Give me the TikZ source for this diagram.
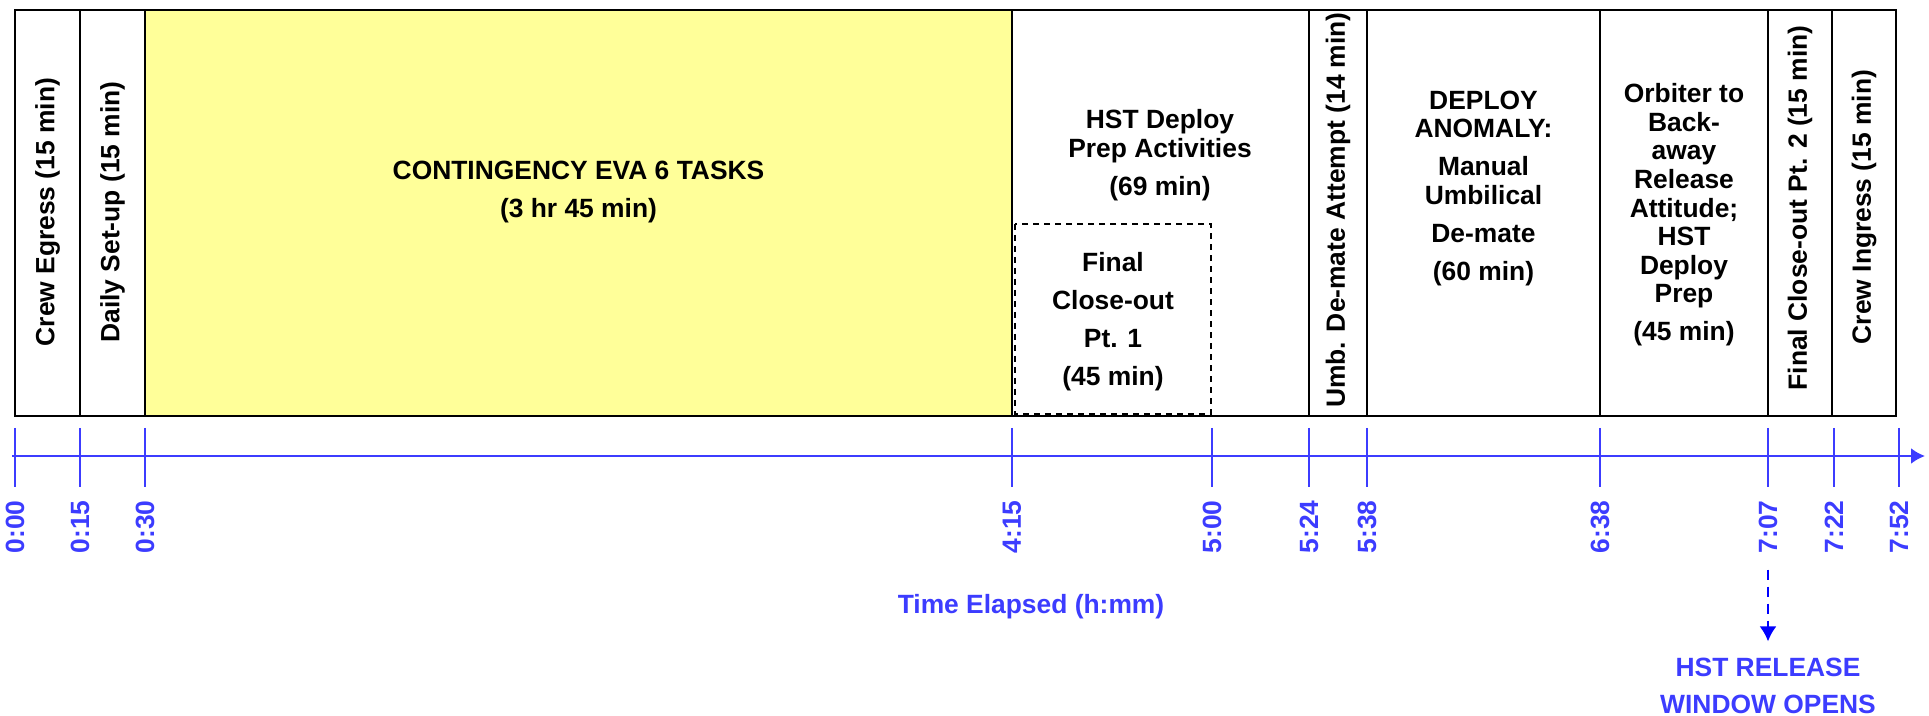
\documentclass[tikz,border=0pt]{standalone}
\usepackage{fontspec}
\setmainfont{Liberation Sans}
\usetikzlibrary{arrows.meta}

\definecolor{axisblue}{RGB}{60,60,255}
\definecolor{taskyellow}{RGB}{255,255,153}
\newcommand\taskfont{\fontsize{13.2}{14.3}\selectfont\bfseries}

\begin{document}
\begin{tikzpicture}[x = 0.5pt, y = -0.5pt, > = {Latex[length = 7pt, width = 8pt]},
	task/.style = {font = \taskfont, align = center, inner sep = 0pt},
	side task/.style = {task, rotate = 90},
	time label/.style = {font = \taskfont, text = axisblue, rotate = 90, anchor = east, inner sep = 0pt}]

	\useasboundingbox (0, 0) rectangle (1929, 716);

	% Task bars

	\fill [taskyellow] (145, 10) rectangle (1012, 416);
	\draw [line width = 1.1pt] (15, 10) rectangle (1896, 416);
	\foreach \x in {80, 145, 1012, 1309, 1367, 1600, 1768, 1832}
		\draw [line width = 1.2pt] (\x, 10) -- (\x, 416);
	\draw [line width = 0.6pt, dash pattern = on 3pt off 2.5pt] (1015, 224) rectangle (1211, 414);

	% Task names

	\node [side task] (egress) at (47.5, 212) {Crew Egress (15 min)};
	\node [side task] (setup) at (112.5, 212) {Daily Set-up (15 min)};
	\node [task] (contingency) at (578.5, 192) {CONTINGENCY EVA 6 TASKS\\[4.7pt](3 hr 45 min)};
	\node [task] (deployprep) at (1160, 155) {HST Deploy\\Prep Activities\\[4.7pt](69 min)};
	\node [task] (closeout1) at (1113, 322) {Final\\[4.7pt]Close-out\\[4.7pt]Pt. 1\\[4.7pt](45 min)};
	\node [side task] (umbdemate) at (1338, 210) {Umb. De-mate Attempt (14 min)};
	\node [task] (anomaly) at (1483.5, 188.5) {DEPLOY\\ANOMALY:\\[4.7pt]Manual\\Umbilical\\[4.7pt]De-mate\\[4.7pt](60 min)};
	\node [task] (backaway) at (1684, 215) {Orbiter to\\Back-\\away\\Release\\Attitude;\\HST\\Deploy\\Prep\\[4.7pt](45 min)};
	\node [side task] (closeout2) at (1800, 208) {Final Close-out Pt. 2 (15 min)};
	\node [side task] (ingress) at (1864, 207) {Crew Ingress (15 min)};

	% Time axis

	\begin{scope}[axisblue]

		\draw [line width = 1.2pt, ->] (12, 456) -- (1925, 456);

		\foreach \x/\t/\n in {15/0:00/000, 80/0:15/015, 145/0:30/030, 1012/4:15/415, 1212/5:00/500, 1309/5:24/524, 1367/5:38/538, 1600/6:38/638, 1768/7:07/707, 1834/7:22/722, 1899/7:52/752}
		{
			\draw [line width = 1pt] (\x, 428) -- (\x, 487);
			\node [time label] (t\n) at (\x, 500) {\t};
		}

		\node [task] (elapsed) at (1031, 607) {Time Elapsed (h:mm)};
		\node [task] (release) at (1768, 686) {HST RELEASE\\[4.5pt]WINDOW OPENS};

	\end{scope}

	% Release window marker

	\draw [blue, line width = 1.2pt, dash pattern = on 5pt off 3.5pt, -{Latex[length = 7.5pt, width = 8.5pt]}] ([yshift = -8pt] t707.west) -- ([yshift = 8pt] release.north);

\end{tikzpicture}
\end{document}
